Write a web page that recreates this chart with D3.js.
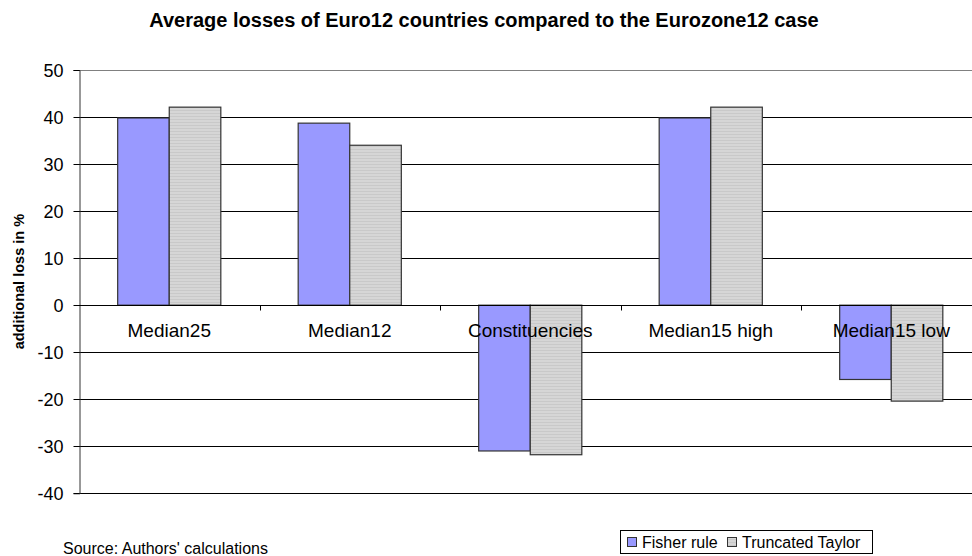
<!DOCTYPE html>
<html>
<head>
<meta charset="utf-8">
<script src="https://cdn.jsdelivr.net/npm/d3@7"></script>
<style>
  html, body { margin: 0; padding: 0; background: #fff; }
  svg { display: block; font-family: Arial, "Liberation Sans", sans-serif; }
</style>
</head>
<body>
<svg id="chart" width="972" height="556"></svg>
<script>
// Scenario categories and the two computation methods
const categories = ["Median25", "Median12", "Constituencies", "Median15 high", "Median15 low"];
const seriesNames = ["Fisher rule", "Truncated Taylor"];
const fisherRule = [39.8, 38.7, -31.0, 39.8, -15.8];
const truncatedTaylor = [42.1, 34.0, -31.8, 42.1, -20.4];
const yTicks = [50, 40, 30, 20, 10, 0, -10, -20, -30, -40];

const seriesValues = [fisherRule, truncatedTaylor];
const colors = ["#9999ff", "url(#taylorFill)"];

const svg = d3.select("#chart");
const plot = { left: 79, right: 981.5, top: 70, bottom: 493.3 };

// Horizontal stripe fill for the Taylor bars
const defs = svg.append("defs");
const pat = defs.append("pattern")
  .attr("id", "taylorFill")
  .attr("patternUnits", "userSpaceOnUse")
  .attr("width", 4).attr("height", 3);
pat.append("rect").attr("width", 4).attr("height", 3).attr("fill", "#d6d6d6");
pat.append("rect").attr("y", 2).attr("width", 4).attr("height", 1).attr("fill", "#c9c9c9");

const y = d3.scaleLinear().domain([-40, 50]).range([plot.bottom, plot.top]);
const x = d3.scaleBand().domain(categories).range([plot.left, plot.right]).padding(0);
const xs = d3.scaleBand().domain(seriesNames).range([0, x.bandwidth()])
  .paddingInner(0).paddingOuter(0.75);

// Title
svg.append("text")
  .attr("x", 484).attr("y", 27)
  .attr("text-anchor", "middle")
  .attr("font-weight", "bold")
  .attr("font-size", 20)
  .text("Average losses of Euro12 countries compared to the Eurozone12 case");

// Gridlines
svg.append("g")
  .selectAll("line")
  .data(yTicks)
  .join("line")
  .attr("x1", plot.left).attr("x2", plot.right)
  .attr("y1", d => Math.round(y(d)) + 0.5).attr("y2", d => Math.round(y(d)) + 0.5)
  .attr("stroke", d => d === 50 ? "#808080" : "#000")
  .attr("stroke-width", 1);

// Y axis
const yAxis = d3.axisLeft(y).tickValues(yTicks).tickSize(6).tickPadding(10).tickFormat(d => String(d));
const gy = svg.append("g")
  .attr("transform", `translate(${plot.left + 0.5},0)`)
  .call(yAxis);
gy.select(".domain").attr("stroke", "#333");
gy.selectAll(".tick line").attr("stroke", "#000");
gy.selectAll(".tick").attr("transform", d => `translate(0,${Math.round(y(d)) + 0.5})`);
gy.selectAll(".tick text")
  .attr("font-size", 18)
  .attr("font-family", "Arial, 'Liberation Sans', sans-serif")
  .attr("fill", "#000")
  .attr("dy", "0.35em");

// Y axis title
svg.append("text")
  .attr("transform", `translate(24,${(plot.top + plot.bottom) / 2}) rotate(-90)`)
  .attr("text-anchor", "middle")
  .attr("font-weight", "bold")
  .attr("font-size", 14.5)
  .text("additional loss in %");

// Bars
const groups = svg.append("g")
  .selectAll("g")
  .data(categories)
  .join("g")
  .attr("transform", d => `translate(${x(d)},0)`);

groups.selectAll("rect")
  .data((c, i) => seriesNames.map((s, j) => ({ series: s, j, value: seriesValues[j][i] })))
  .join("rect")
  .attr("x", d => xs(d.series))
  .attr("width", xs.bandwidth())
  .attr("y", d => Math.min(y(d.value), y(0)))
  .attr("height", d => Math.abs(y(d.value) - y(0)))
  .attr("fill", d => colors[d.j])
  .attr("stroke", "#333")
  .attr("stroke-width", 1.2);

// X axis along zero with category separators
const y0 = Math.round(y(0)) + 0.5;
svg.append("line")
  .attr("x1", plot.left).attr("x2", plot.right)
  .attr("y1", y0).attr("y2", y0)
  .attr("stroke", "#000");
svg.append("g")
  .selectAll("line")
  .data(categories.slice(1))
  .join("line")
  .attr("x1", d => Math.round(x(d)) + 0.5).attr("x2", d => Math.round(x(d)) + 0.5)
  .attr("y1", y0).attr("y2", y0 + 5)
  .attr("stroke", "#000");

// Category labels
svg.append("g")
  .selectAll("text")
  .data(categories)
  .join("text")
  .attr("x", d => x(d) + x.bandwidth() / 2)
  .attr("y", 337)
  .attr("text-anchor", "middle")
  .attr("font-size", 19)
  .text(d => d);

// Source note
svg.append("text")
  .attr("x", 63).attr("y", 554)
  .attr("font-size", 16)
  .text("Source: Authors' calculations");

// Legend
const lg = svg.append("g");
lg.append("rect")
  .attr("x", 620.5).attr("y", 530.5).attr("width", 252).attr("height", 23)
  .attr("fill", "#fff").attr("stroke", "#000");
const legendItems = [
  { name: seriesNames[0], fill: colors[0], sx: 627, tx: 642 },
  { name: seriesNames[1], fill: colors[1], sx: 727, tx: 742 }
];
lg.selectAll("rect.sw")
  .data(legendItems)
  .join("rect")
  .attr("class", "sw")
  .attr("x", d => d.sx + 0.5).attr("y", 537.5)
  .attr("width", 9).attr("height", 9)
  .attr("fill", d => d.fill).attr("stroke", "#333");
lg.selectAll("text")
  .data(legendItems)
  .join("text")
  .attr("x", d => d.tx).attr("y", 548)
  .attr("font-size", 16)
  .text(d => d.name);
</script>
</body>
</html>
